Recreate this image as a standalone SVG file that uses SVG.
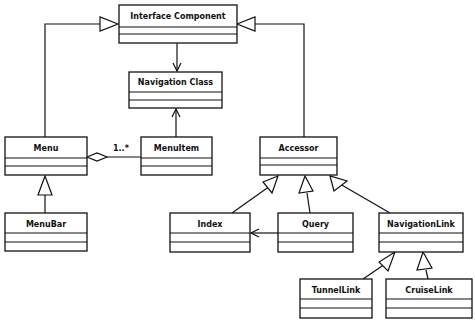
<svg xmlns="http://www.w3.org/2000/svg" width="475" height="321" viewBox="0 0 475 321">
<style>
.box{fill:#fff;stroke:#111;stroke-width:1.3}
.sep{stroke:#111;stroke-width:1.1}
.t{font-family:"DejaVu Sans","Liberation Sans",Arial,sans-serif;font-weight:bold;font-size:8px;fill:#111;text-anchor:middle}
.c{fill:none;stroke:#111;stroke-width:1.2}
.tri{fill:#fff;stroke:#111;stroke-width:1.2}
.lbl{font-family:"DejaVu Sans","Liberation Sans",Arial,sans-serif;font-weight:bold;font-size:8px;fill:#111}
</style>
<defs>
<marker id="open" markerWidth="10" markerHeight="10" refX="9" refY="5" orient="auto" markerUnits="userSpaceOnUse">
<path d="M1,1 L9,5 L1,9" fill="none" stroke="#111" stroke-width="1.2"/>
</marker>
</defs>
<g id="connectors">
<polyline class="c" points="45,137 45,24 100,24"/>
<polygon class="tri" points="118,24 100,17 100,31"/>
<polyline class="c" points="304,137 304,24 255,24"/>
<polygon class="tri" points="237,24 255,17 255,31"/>
<line class="c" x1="177" y1="43" x2="177" y2="71" marker-end="url(#open)"/>
<line class="c" x1="176" y1="137" x2="176" y2="109" marker-end="url(#open)"/>
<line class="c" x1="107" y1="157" x2="141" y2="157"/>
<polygon class="tri" points="87,157 97,153 107,157 97,161"/>
<text class="lbl" x="113" y="151">1..*</text>
<line class="c" x1="45" y1="195" x2="45" y2="213"/>
<polygon class="tri" points="45,176 38,195 52,195"/>
<line class="c" x1="232" y1="213" x2="270" y2="186"/>
<polygon class="tri" points="278,176 263,182 272,193"/>
<line class="c" x1="310" y1="213" x2="307" y2="193"/>
<polygon class="tri" points="305,176 299,193 313,191"/>
<line class="c" x1="390" y1="213" x2="340" y2="184"/>
<polygon class="tri" points="330,176 334,191 347,181"/>
<line class="c" x1="278" y1="233" x2="251" y2="233" marker-end="url(#open)"/>
<line class="c" x1="363" y1="279" x2="385" y2="264"/>
<polygon class="tri" points="395,252 379,262 388,271"/>
<line class="c" x1="428" y1="279" x2="426" y2="270"/>
<polygon class="tri" points="423,252 417,270 432,268"/>
</g>
<g id="interface-component">
<rect class="box" x="119" y="5" width="118" height="38"/>
<line class="sep" x1="119" y1="27" x2="237" y2="27"/>
<line class="sep" x1="119" y1="34" x2="237" y2="34"/>
<text class="t" x="178" y="19">Interface Component</text>
</g>
<g id="navigation-class">
<rect class="box" x="129" y="72" width="93" height="36"/>
<line class="sep" x1="129" y1="92" x2="222" y2="92"/>
<line class="sep" x1="129" y1="100" x2="222" y2="100"/>
<text class="t" x="175.5" y="85">Navigation Class</text>
</g>
<g id="menu">
<rect class="box" x="5" y="137" width="82" height="38"/>
<line class="sep" x1="5" y1="158" x2="87" y2="158"/>
<line class="sep" x1="5" y1="166" x2="87" y2="166"/>
<text class="t" x="46" y="151">Menu</text>
</g>
<g id="menuitem">
<rect class="box" x="141" y="137" width="71" height="38"/>
<line class="sep" x1="141" y1="158" x2="212" y2="158"/>
<line class="sep" x1="141" y1="166" x2="212" y2="166"/>
<text class="t" x="176.5" y="151">MenuItem</text>
</g>
<g id="accessor">
<rect class="box" x="260" y="137" width="77" height="38"/>
<line class="sep" x1="260" y1="158" x2="337" y2="158"/>
<line class="sep" x1="260" y1="165" x2="337" y2="165"/>
<text class="t" x="298.5" y="151">Accessor</text>
</g>
<g id="menubar">
<rect class="box" x="5" y="213" width="82" height="38"/>
<line class="sep" x1="5" y1="233" x2="87" y2="233"/>
<line class="sep" x1="5" y1="242" x2="87" y2="242"/>
<text class="t" x="46" y="227">MenuBar</text>
</g>
<g id="index">
<rect class="box" x="170" y="213" width="80" height="39"/>
<line class="sep" x1="170" y1="233" x2="250" y2="233"/>
<line class="sep" x1="170" y1="242" x2="250" y2="242"/>
<text class="t" x="210" y="227">Index</text>
</g>
<g id="query">
<rect class="box" x="278" y="213" width="75" height="39"/>
<line class="sep" x1="278" y1="233" x2="353" y2="233"/>
<line class="sep" x1="278" y1="242" x2="353" y2="242"/>
<text class="t" x="315.5" y="227">Query</text>
</g>
<g id="navigationlink">
<rect class="box" x="379" y="213" width="84" height="39"/>
<line class="sep" x1="379" y1="233" x2="463" y2="233"/>
<line class="sep" x1="379" y1="242" x2="463" y2="242"/>
<text class="t" x="421" y="227">NavigationLink</text>
</g>
<g id="tunnellink">
<rect class="box" x="300" y="279" width="72" height="39"/>
<line class="sep" x1="300" y1="299" x2="372" y2="299"/>
<line class="sep" x1="300" y1="308" x2="372" y2="308"/>
<text class="t" x="336" y="293">TunnelLink</text>
</g>
<g id="cruiselink">
<rect class="box" x="386" y="279" width="86" height="39"/>
<line class="sep" x1="386" y1="299" x2="472" y2="299"/>
<line class="sep" x1="386" y1="308" x2="472" y2="308"/>
<text class="t" x="429" y="293">CruiseLink</text>
</g>
</svg>
